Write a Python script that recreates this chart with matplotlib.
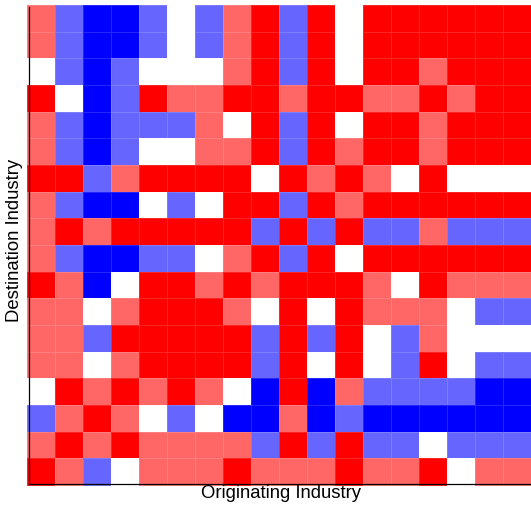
import numpy as np
import matplotlib.pyplot as plt
from matplotlib.colors import ListedColormap, BoundaryNorm

plt.rcParams['font.family'] = ['Liberation Sans', 'DejaVu Sans']

# flow sign/strength between industries: -2 strong out ... 2 strong in
grid = np.array([
    [1, -1, -2, -2, -1, 0, -1, 1, 2, -1, 2, 0, 2, 2, 2, 2, 2, 2],
    [1, -1, -2, -2, -1, 0, -1, 1, 2, -1, 2, 0, 2, 2, 2, 2, 2, 2],
    [0, -1, -2, -1, 0, 0, 0, 1, 2, -1, 2, 0, 2, 2, 1, 2, 2, 2],
    [2, 0, -2, -1, 2, 1, 1, 2, 2, 1, 2, 2, 1, 1, 2, 1, 2, 2],
    [1, -1, -2, -1, -1, -1, 1, 0, 2, -1, 2, 0, 2, 2, 1, 2, 2, 2],
    [1, -1, -2, -1, 0, 0, 1, 1, 2, -1, 2, 1, 2, 2, 1, 2, 2, 2],
    [2, 2, -1, 1, 2, 2, 2, 2, 0, 2, 1, 2, 1, 0, 2, 0, 0, 0],
    [1, -1, -2, -2, 0, -1, 0, 2, 2, -1, 2, 1, 2, 2, 2, 2, 2, 2],
    [1, 2, 1, 2, 2, 2, 2, 2, -1, 2, -1, 2, -1, -1, 1, -1, -1, -1],
    [1, -1, -2, -2, -1, -1, 0, 1, 2, -1, 2, 0, 2, 2, 2, 2, 2, 2],
    [2, 1, -2, 0, 2, 2, 1, 2, 1, 2, 2, 2, 1, 0, 2, 1, 1, 1],
    [1, 1, 0, 1, 2, 2, 2, 1, 0, 2, 0, 2, 1, 1, 1, 0, -1, -1],
    [1, 1, -1, 2, 2, 2, 2, 2, -1, 2, -1, 2, 0, -1, 1, 0, 0, 0],
    [1, 1, 0, 1, 2, 2, 2, 2, -1, 2, 0, 2, 0, -1, 2, 0, -1, -1],
    [0, 2, 1, 2, 1, 2, 1, 0, -2, 2, -2, 1, -1, -1, -1, -1, -2, -2],
    [-1, 1, 2, 1, 0, -1, 0, -2, -2, 1, -2, -1, -2, -2, -2, -2, -2, -2],
    [1, 2, 1, 2, 1, 1, 1, 1, -1, 2, -1, 2, -1, -1, 0, -1, -1, -1],
    [2, 1, -1, 0, 1, 1, 1, 2, 1, 1, 1, 2, 1, 1, 2, 0, 1, 1],
])

level_colors = ['#0000ff', '#6666ff', '#ffffff', '#ff6666', '#ff0000']
cmap = ListedColormap(level_colors)
norm = BoundaryNorm([-2.5, -1.5, -0.5, 0.5, 1.5, 2.5], cmap.N)

fig = plt.figure(figsize=(5.31, 5.08), dpi=100)
# axes box: left spine at x=29px, bottom at y=484px, top at y=7px
ax = fig.add_axes([29 / 531, (508 - 484) / 508, 502 / 531, 477 / 508])

mesh = ax.pcolormesh(np.arange(19), np.arange(19), grid, cmap=cmap, norm=norm,
                     edgecolor=(1, 1, 1, 0.15), linewidth=0.4)
mesh.set_clip_on(False)

ax.set_xlim(2 / 28, 18)
ax.set_ylim(18 - 1 / 26.67, 2 / 26.67)

ax.spines['top'].set_visible(False)
ax.spines['right'].set_visible(False)
for side in ['left', 'bottom']:
    ax.spines[side].set_linewidth(0.9)
    ax.spines[side].set_zorder(5)
ax.set_xticks([])
ax.set_yticks([])

fig.text(281 / 531, 1 - 494 / 508, 'Originating Industry', ha='center', va='center', fontsize=13.3)
fig.text(15 / 531, 1 - 240 / 508, 'Destination Industry', ha='center', va='center',
         rotation=90, fontsize=13.3)

fig.savefig('out.png', dpi=100)
